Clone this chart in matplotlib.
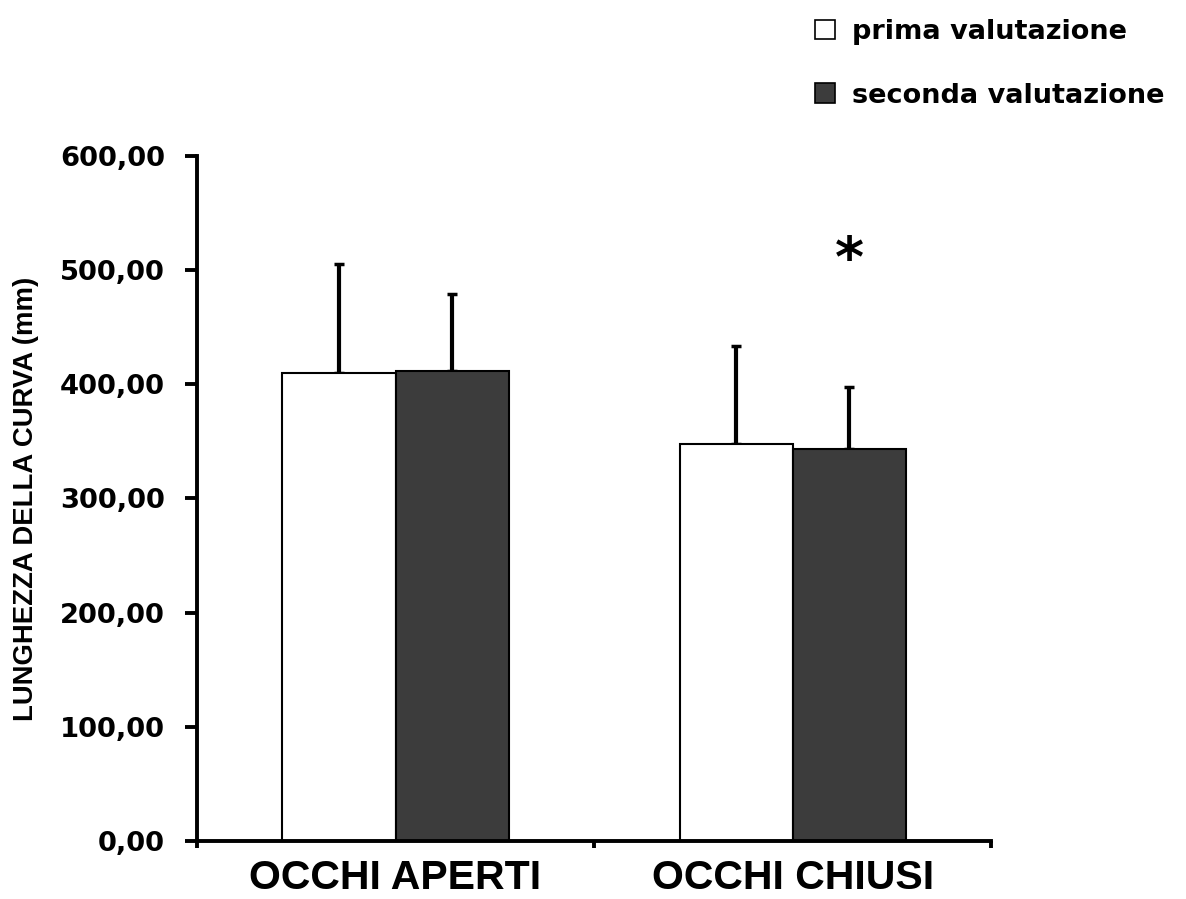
import matplotlib
matplotlib.use('Agg')
from matplotlib import pyplot as plt
from matplotlib.patches import Patch
import numpy as np

# dati
categorie = ['OCCHI APERTI', 'OCCHI CHIUSI']
prima = [410, 348]
prima_err = [95, 86]
seconda = [412, 343]
seconda_err = [67, 55]
serie = ['prima valutazione', 'seconda valutazione']
yticks = [0, 100, 200, 300, 400, 500, 600]
ytick_labels = ['0,00', '100,00', '200,00', '300,00', '400,00', '500,00', '600,00']

colore_scuro = '#3c3c3c'
w = 0.285

fig = plt.figure(figsize=(11.86, 8.99), dpi=100)
ax = fig.add_axes([0.166, 0.0645, 0.670, 0.762])

x = np.arange(len(categorie))
ax.bar(x - w / 2, prima, w, color='white', edgecolor='black', linewidth=1.5, zorder=2)
ax.bar(x + w / 2, seconda, w, color=colore_scuro, edgecolor='black', linewidth=1.5, zorder=2)

# barre d'errore solo verso l'alto
ax.errorbar(x - w / 2, prima, yerr=[np.zeros(len(prima)), prima_err], fmt='none',
            ecolor='black', elinewidth=3, capsize=3.5, capthick=2.5, zorder=1)
ax.errorbar(x + w / 2, seconda, yerr=[np.zeros(len(seconda)), seconda_err], fmt='none',
            ecolor='black', elinewidth=3, capsize=3.5, capthick=2.5, zorder=1)

ax.text(1 + w / 2, 508, '*', ha='center', va='center', fontsize=40,
        fontweight='bold', family='DejaVu Sans')

ax.set_xlim(-0.5, 1.5)
ax.set_ylim(0, 600)

for s in ['top', 'right']:
    ax.spines[s].set_visible(False)
for s in ['left', 'bottom']:
    ax.spines[s].set_linewidth(2.8)

ax.set_yticks(yticks)
ax.set_yticklabels(ytick_labels, fontsize=19.7, fontweight='bold', family='DejaVu Sans')
ax.tick_params(axis='y', length=9, width=2.8, pad=14)

ax.set_xticks(x)
ax.set_xticklabels(categorie, fontsize=29.5, fontweight='bold', family='Liberation Sans')
ax.tick_params(axis='x', which='major', length=0, pad=13)
ax.set_xticks([-0.5, 0.5, 1.5], minor=True)
ax.tick_params(axis='x', which='minor', length=5, width=2.8)

ax.set_ylabel('LUNGHEZZA DELLA CURVA (mm)', fontsize=19.8, fontweight='bold',
              family='Liberation Sans', labelpad=15)

handles = [Patch(facecolor='white', edgecolor='black', linewidth=1.2),
           Patch(facecolor=colore_scuro, edgecolor='black', linewidth=1.2)]
leg = fig.legend(handles, serie, loc='upper left', bbox_to_anchor=(815 / 1186, 0.979),
                 frameon=False, borderpad=0, borderaxespad=0, handlelength=0.75,
                 handleheight=0.75, handletextpad=0.6, labelspacing=1.4,
                 prop={'family': 'DejaVu Sans', 'weight': 'bold', 'size': 19.5})

fig.savefig('out.png', dpi=100)
